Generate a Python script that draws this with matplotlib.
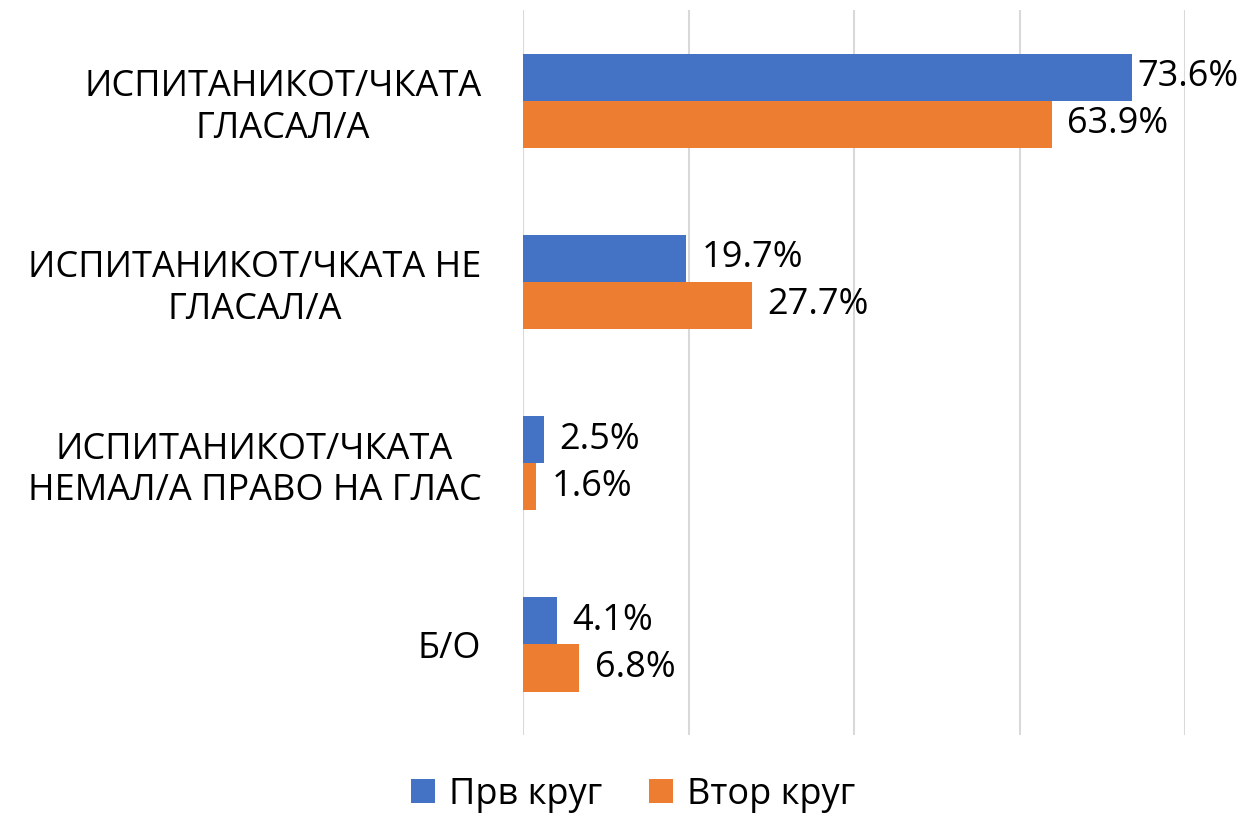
import numpy as np
import matplotlib.pyplot as plt

plt.rcParams['font.family'] = ['Open Sans', 'DejaVu Sans']

categories = ['ИСПИТАНИКОТ/ЧКАТА\nГЛАСАЛ/А',
              'ИСПИТАНИКОТ/ЧКАТА НЕ\nГЛАСАЛ/А',
              'ИСПИТАНИКОТ/ЧКАТА\nНЕМАЛ/А ПРАВО НА ГЛАС',
              'Б/О']
first_round = [73.6, 19.7, 2.5, 4.1]
second_round = [63.9, 27.7, 1.6, 6.8]
series_names = ['Прв круг', 'Втор круг']

blue = '#4472C4'
orange = '#ED7D31'

fig = plt.figure(figsize=(12.49, 8.15), dpi=100)
ax = fig.add_axes([523/1249, 1 - 735/815, (1185-523)/1249, 725/815])

y = np.arange(len(categories))
h = 0.26
b1 = ax.barh(y - h/2, first_round, height=h, color=blue, label=series_names[0])
b2 = ax.barh(y + h/2, second_round, height=h, color=orange, label=series_names[1])

for bars, vals in [(b1, first_round), (b2, second_round)]:
    for bar, v in zip(bars, vals):
        # keep the longest label inside the figure, like Excel does
        off = 4 if v > 70 else 11
        ax.annotate(f'{v:.1f}%', (v, bar.get_y() + bar.get_height()/2),
                    xytext=(off, 0), textcoords='offset points',
                    va='center', ha='left', fontsize=26)

ax.set_xlim(0, 80)
ax.set_ylim(len(categories) - 0.5, -0.5)
ax.set_xticks([0, 20, 40, 60, 80])
ax.set_xticklabels([])
ax.grid(axis='x', color='#D9D9D9', lw=1.5)
ax.set_axisbelow(True)
ax.set_yticks(y)
ax.set_yticklabels(categories, fontsize=26, ha='right', multialignment='center')
ax.tick_params(axis='both', length=0, pad=30)
for s in ax.spines.values():
    s.set_visible(False)

fig.legend(loc='center', bbox_to_anchor=(0.507, 1 - 795/815), ncol=2, frameon=False,
           fontsize=26, handlelength=0.65, handleheight=0.65, columnspacing=1.3,
           handletextpad=0.4)

plt.savefig('out.png', dpi=100)
plt.close('all')
